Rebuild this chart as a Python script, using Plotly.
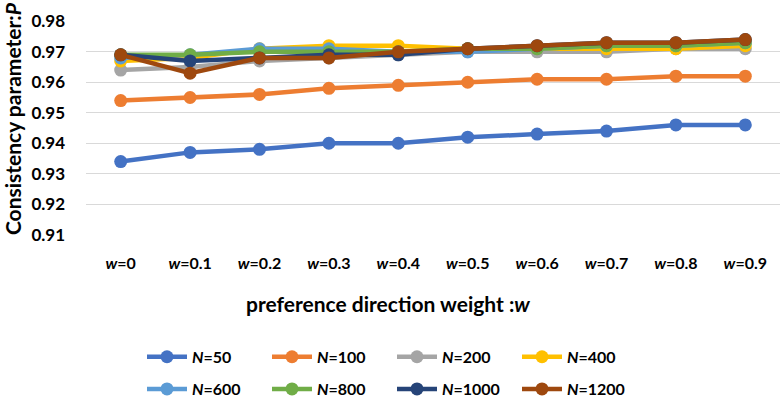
import plotly.graph_objects as go

categories = ["0", "0.1", "0.2", "0.3", "0.4", "0.5", "0.6", "0.7", "0.8", "0.9"]
tick_labels = ["<i>w</i>=" + c for c in categories]

series_names = ["50", "100", "200", "400", "600", "800", "1000", "1200"]
n50 = [0.934, 0.937, 0.938, 0.940, 0.940, 0.942, 0.943, 0.944, 0.946, 0.946]
n100 = [0.954, 0.955, 0.956, 0.958, 0.959, 0.960, 0.961, 0.961, 0.962, 0.962]
n200 = [0.964, 0.965, 0.967, 0.968, 0.969, 0.970, 0.970, 0.970, 0.971, 0.971]
n400 = [0.967, 0.968, 0.971, 0.972, 0.972, 0.971, 0.971, 0.971, 0.971, 0.972]
n600 = [0.968, 0.969, 0.971, 0.971, 0.970, 0.970, 0.971, 0.972, 0.972, 0.973]
n800 = [0.969, 0.969, 0.970, 0.970, 0.970, 0.971, 0.971, 0.972, 0.972, 0.973]
n1000 = [0.969, 0.967, 0.968, 0.969, 0.969, 0.971, 0.972, 0.973, 0.973, 0.974]
n1200 = [0.969, 0.963, 0.968, 0.968, 0.970, 0.971, 0.972, 0.973, 0.973, 0.974]

series_values = [n50, n100, n200, n400, n600, n800, n1000, n1200]
colors = ["#4472C4", "#ED7D31", "#A5A5A5", "#FFC000",
          "#5B9BD5", "#70AD47", "#264478", "#9E480E"]

FONT = "Lato, 'Open Sans', sans-serif"

fig = go.Figure()
for i, (name, vals, col) in enumerate(zip(series_names, series_values, colors)):
    fig.add_trace(go.Scatter(
        x=tick_labels, y=vals, mode="lines+markers",
        name="<b><i>N</i>=" + name + "</b>",
        line=dict(color=col, width=4.5),
        marker=dict(color=col, size=13),
        legend="legend" if i < 4 else "legend2",
    ))

legend_common = dict(
    orientation="h", xanchor="left", x=(142 - 86) / 694, yanchor="middle",
    entrywidth=70, entrywidthmode="pixels",
    font=dict(family=FONT, size=16, color="#000000"),
    bgcolor="rgba(0,0,0,0)", itemwidth=40, traceorder="normal",
)

fig.update_layout(
    width=780, height=406,
    margin=dict(l=86, r=0, t=21, b=169),
    paper_bgcolor="white", plot_bgcolor="white",
    font=dict(family=FONT, size=16, color="#000000"),
    showlegend=True,
    legend=dict(**legend_common, y=-(360 - 237) / 216),
    legend2=dict(**legend_common, y=-(393 - 237) / 216),
    xaxis=dict(
        type="category", range=[-0.5, 9.5],
        showgrid=False, showline=False, zeroline=False,
        tickfont=dict(family=FONT, size=16, color="#000000", weight="bold"),
        ticklabelstandoff=17, ticks="",
    ),
    yaxis=dict(
        range=[0.9099, 0.9801], tickvals=[0.91, 0.92, 0.93, 0.94, 0.95, 0.96, 0.97, 0.98],
        tickformat=".2f",
        showgrid=True, gridcolor="#D9D9D9", gridwidth=1,
        zeroline=False, showline=False,
        tickfont=dict(family=FONT, size=17, color="#000000", weight="bold"),
        ticklabelstandoff=20, ticks="",
    ),
    annotations=[
        dict(text="<b>preference direction weight :<i>w</i></b>",
             xref="paper", yref="paper", x=(388 - 86) / 694, y=-(306 - 237) / 216,
             xanchor="center", yanchor="middle", showarrow=False,
             font=dict(family=FONT, size=21, color="#000000")),
        dict(text="<b>Consistency parameter:<i>P</i></b>",
             xref="paper", yref="paper", x=-(86 - 12) / 694, y=(237 - 120) / 216,
             xanchor="center", yanchor="middle", showarrow=False, textangle=-90,
             font=dict(family=FONT, size=21, color="#000000")),
    ],
)

fig.write_html("out.html")
